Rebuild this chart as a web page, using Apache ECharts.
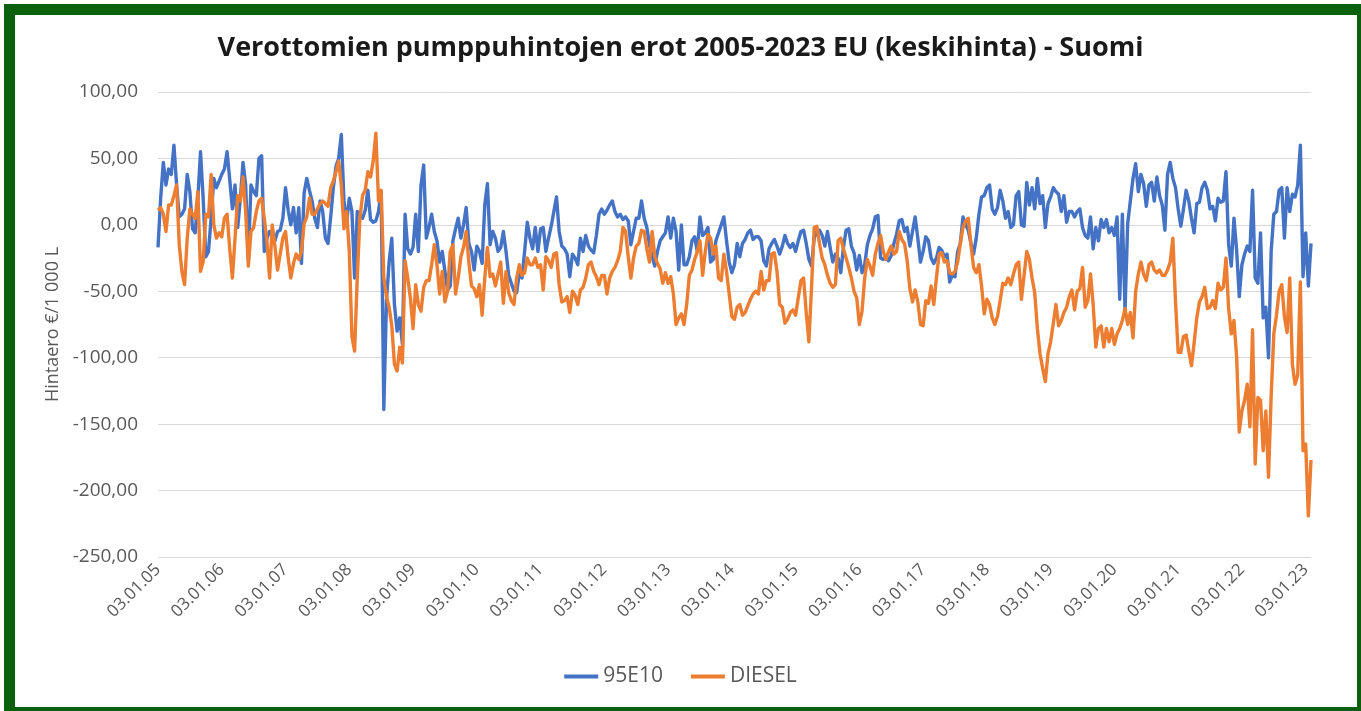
<!DOCTYPE html>
<html>
<head>
<meta charset="utf-8">
<script src="https://cdn.jsdelivr.net/npm/echarts@6/dist/echarts.min.js"></script>
<style>
html,body{margin:0;padding:0;background:#fff;}
#chart{width:1361px;height:711px;}
</style>
</head>
<body>
<div id="chart"></div>
<script>
// Tick labels of the x axis (one per year, 03.01.YY)
const yearLabels = ['03.01.05','03.01.06','03.01.07','03.01.08','03.01.09','03.01.10','03.01.11','03.01.12','03.01.13','03.01.14','03.01.15','03.01.16','03.01.17','03.01.18','03.01.19','03.01.20','03.01.21','03.01.22','03.01.23'];
const yTicks = [-250, -200, -150, -100, -50, 0, 50, 100];
const seriesNames = ['95E10', 'DIESEL'];
const pointsPerYear = 24; // semi-monthly readings

// 95E10 price difference, €/1000 L (24 readings per year, from 03.01.05)
const e10 = [
  -17, 20, 47, 30, 42, 38, 60, 30, 6, 8, 12, 38, 25, -3, -6, 20, 55, 20, -24, -20, 5, 35, 28, 33,
  38, 42, 55, 34, 12, 30, -2, 20, 47, 30, -26, 30, 25, 22, 50, 52, -20, -10, -5, -8, -12, -5, -4, 5,
  28, 11, 0, 13, -6, 13, -29, 24, 35, 26, 18, 5, -2, 18, 10, -10, -14, 6, 28, 44, 50, 68, 18, 2,
  20, 10, -40, 10, 8, 5, 11, 26, 4, 2, 3, 10, 25, -139, -57, -28, -10, -60, -80, -70, -90, 8, -18, -22,
  -17, 8, -20, 30, 45, -10, -2, 8, -5, -12, -28, -20, -35, -49, -46, -12, -3, 5, -10, 0, 13, -14, -20, -34,
  -16, -20, -29, 15, 31, -15, -5, -10, -20, -17, -5, -20, -38, -44, -50, -51, -36, -40, -20, 2, -10, -18, -2, -20,
  -3, -2, -20, -10, -1, 10, 21, -5, -16, -18, -22, -39, -22, -25, -30, -10, -20, -8, -16, -19, -21, -8, 8, 12,
  8, 11, 15, 18, 10, 6, 8, 4, 6, 3, -15, -5, 5, 5, 18, 5, -2, -15, -24, -31, -20, -12, -9, -6,
  6, -10, 5, -5, -34, 0, -30, -30, -24, -12, -9, -20, 6, -8, -6, -2, -28, -26, -12, -6, 0, 6, -12, -28,
  -36, -30, -14, -24, -14, -11, -6, -4, -11, -9, -9, -12, -27, -31, -18, -14, -11, -16, -22, -16, -8, -14, -17, -14,
  -20, -12, -5, -4, -14, -26, -31, -10, -5, -4, -8, -16, -5, -17, -28, -22, -25, -36, -17, -4, -3, -16, -21, -34,
  -23, -36, -30, -15, -8, -3, 6, 7, -25, -26, -24, -27, -23, -14, -7, 3, 4, -5, -2, -16, -5, 6, -10, -28,
  -20, -9, -12, -25, -29, -25, -17, -19, -24, -22, -43, -38, -39, -20, -14, 6, 0, -4, -14, -22, -10, 8, 21, 22,
  28, 30, 12, 8, 13, 26, 18, 5, 10, -2, 0, 22, 25, 0, -1, 32, 15, 28, 12, 35, 16, 22, -2, 16,
  21, 28, 25, 23, 10, 22, 2, 10, 10, 6, 10, 12, -2, -8, -10, 6, -18, -2, -12, 4, -2, 4, -6, -2,
  -8, 6, -56, 8, -64, 1, 18, 35, 46, 25, 38, 31, 14, 30, 32, 18, 36, 22, 15, -4, 38, 47, 35, 28,
  12, -1, 12, 26, 18, 5, -6, 16, 17, 28, 32, 26, 12, 14, 3, 20, 17, 18, 40, -15, -31, 5, -19, -54,
  -30, -22, -16, -20, 26, -40, -44, -6, -70, -62, -100, -20, 8, 10, 26, 28, -10, 28, 10, 23, 21, 30, 60, -39,
  -6, -46, -14
];

// DIESEL price difference, €/1000 L (24 readings per year, from 03.01.05)
const diesel = [
  11, 13, 8, -5, 15, 15, 22, 30, -15, -35, -45, -10, 12, 8, 5, 25, -35, -28, 8, 6, 38, 0, -10, -6,
  -9, 5, 8, -18, -40, -10, 22, 18, 36, 10, -31, -5, -2, 10, 18, 20, 5, -12, -40, 0, -16, -34, -22, -10,
  -5, -25, -40, -29, -22, -26, -20, 1, 6, 20, 8, 8, 12, 16, 18, 16, 14, 28, 33, 40, 48, 30, -3, 10,
  -20, -84, -95, -40, 5, 22, 26, 40, 36, 48, 69, 18, 26, -40, -54, -62, -76, -105, -110, -92, -104, -27, -40, -55,
  -78, -45, -60, -65, -47, -42, -42, -30, -15, -30, -52, -35, -58, -50, -20, -15, -52, -40, -24, -17, -5, -28, -46, -48,
  -54, -45, -68, -40, -17, -39, -37, -46, -37, -28, -59, -35, -51, -57, -60, -40, -30, -38, -36, -25, -30, -30, -25, -32,
  -30, -49, -24, -27, -32, -22, -21, -45, -58, -57, -54, -66, -50, -53, -60, -49, -47, -40, -30, -28, -35, -39, -45, -38,
  -38, -52, -40, -35, -32, -27, -20, -2, -5, -24, -40, -25, -16, -14, -4, -5, -18, -28, -5, -24, -29, -33, -44, -36,
  -44, -39, -52, -75, -70, -67, -75, -60, -38, -34, -26, -20, -12, -38, -20, -7, -10, -22, -16, -40, -42, -22, -35, -52,
  -69, -71, -62, -60, -68, -66, -61, -56, -52, -50, -52, -35, -49, -42, -42, -22, -21, -35, -60, -62, -74, -71, -66, -64,
  -68, -55, -42, -40, -66, -88, -47, -2, -1, -14, -25, -30, -38, -44, -47, -45, -12, -10, -18, -25, -32, -40, -50, -55,
  -75, -65, -40, -26, -31, -38, -22, -14, -8, -20, -26, -20, -16, -22, -20, -5, -11, -14, -27, -48, -58, -49, -58, -75,
  -76, -57, -59, -46, -60, -40, -22, -21, -28, -27, -36, -37, -35, -28, -14, -2, 3, 5, -15, -32, -36, -30, -46, -67,
  -56, -60, -70, -75, -69, -57, -44, -45, -40, -45, -37, -30, -28, -56, -38, -20, -26, -40, -51, -78, -97, -108, -118, -97,
  -88, -74, -60, -76, -72, -66, -62, -54, -49, -64, -50, -48, -32, -62, -57, -37, -60, -92, -78, -76, -92, -78, -88, -78,
  -90, -82, -78, -72, -63, -75, -66, -85, -50, -37, -28, -37, -42, -30, -28, -34, -36, -34, -38, -38, -34, -28, -10, -58,
  -96, -96, -84, -83, -95, -106, -89, -70, -58, -54, -47, -63, -62, -57, -63, -44, -49, -47, -25, -63, -82, -72, -99, -156,
  -140, -132, -120, -152, -79, -180, -130, -132, -170, -140, -190, -129, -82, -68, -50, -45, -69, -81, -40, -105, -120, -113, -43, -170,
  -165, -219, -177
];

const toPoints = arr => arr.map((v, i) => [i / pointsPerYear, v]);
const fmtNum = v => v.toFixed(2).replace('.', ',');

const chart = echarts.init(document.getElementById('chart'), null, {renderer: 'canvas'});
const grey = '#595959';
chart.setOption({
  animation: false,
  backgroundColor: '#ffffff',
  title: {
    text: 'Verottomien pumppuhintojen erot 2005-2023 EU (keskihinta) - Suomi',
    left: 'center',
    top: 30,
    textStyle: {fontFamily: 'Open Sans', fontWeight: 'bold', fontSize: 27, color: '#1a1a1a'}
  },
  legend: {
    data: seriesNames,
    bottom: 19,
    left: 'center',
    itemGap: 28,
    itemWidth: 34,
    itemHeight: 4,
    icon: 'rect',
    textStyle: {fontFamily: 'Open Sans', fontSize: 21, color: grey}
  },
  grid: {left: 158, right: 50, top: 92, bottom: 154, containLabel: false},
  xAxis: {
    type: 'value',
    min: 0,
    max: (e10.length - 1) / pointsPerYear,
    interval: 1,
    axisLine: {show: true, lineStyle: {color: '#d9d9d9', width: 1}},
    axisTick: {show: false},
    splitLine: {show: false},
    axisLabel: {
      rotate: 45,
      margin: 10,
      fontFamily: 'Open Sans',
      fontSize: 17,
      color: grey,
      showMaxLabel: false,
      formatter: v => {
        const r = Math.round(v);
        return Math.abs(v - r) < 1e-6 && yearLabels[r] ? yearLabels[r] : '';
      }
    }
  },
  yAxis: {
    type: 'value',
    min: yTicks[0],
    max: yTicks[yTicks.length - 1],
    interval: 50,
    name: 'Hintaero €/1 000 L',
    nameLocation: 'middle',
    nameGap: 96,
    nameTextStyle: {fontFamily: 'Open Sans', fontSize: 18, color: grey},
    axisLine: {show: false},
    axisTick: {show: false},
    splitLine: {lineStyle: {color: '#d9d9d9', width: 1}},
    axisLabel: {margin: 20, fontFamily: 'Open Sans', fontSize: 19, color: grey, formatter: fmtNum}
  },
  graphic: [{
    type: 'rect',
    left: 4, top: 4,
    shape: {width: 1353, height: 703},
    style: {fill: 'none', stroke: '#0b610b', lineWidth: 11},
    silent: true,
    z: 100
  }],
  series: [
    {
      name: seriesNames[0], type: 'line', data: toPoints(e10), showSymbol: false,
      lineStyle: {color: '#4472c4', width: 3.4, join: 'round'}, itemStyle: {color: '#4472c4'}
    },
    {
      name: seriesNames[1], type: 'line', data: toPoints(diesel), showSymbol: false,
      lineStyle: {color: '#ed7d31', width: 3.4, join: 'round'}, itemStyle: {color: '#ed7d31'}
    }
  ]
});
</script>
</body>
</html>
